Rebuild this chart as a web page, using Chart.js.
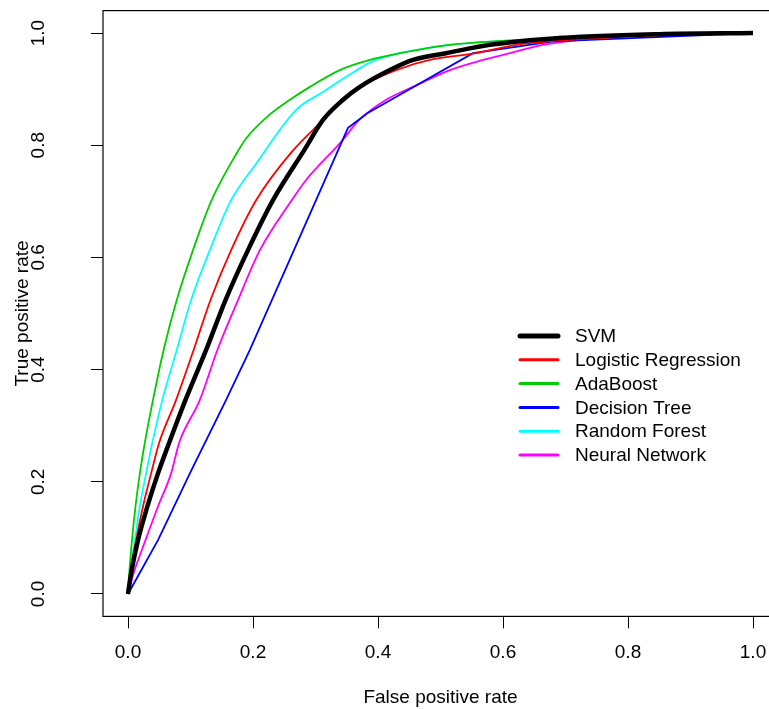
<!DOCTYPE html>
<html>
<head>
<meta charset="utf-8">
<script src="https://cdn.jsdelivr.net/npm/chart.js@4"></script>
<style>
  html, body { margin: 0; padding: 0; background: #fff; overflow: hidden; }
  #wrap { width: 769px; height: 709px; overflow: hidden; }
  #roc { display: block; }
</style>
</head>
<body>
<div id="wrap"><canvas id="roc" width="800" height="709"></canvas></div>
<script>
// ROC curves (false positive rate / true positive rate)
var seriesNames = ['SVM', 'Logistic Regression', 'AdaBoost', 'Decision Tree', 'Random Forest', 'Neural Network'];
var seriesColors = ['#000000', '#FF0000', '#00CD00', '#0000FF', '#00FFFF', '#FF00FF'];

var fprSVM = [0, 0.005, 0.016, 0.031, 0.048, 0.066, 0.092, 0.125, 0.156, 0.192, 0.232, 0.283, 0.312, 0.344, 0.371, 0.419, 0.456, 0.509, 0.579, 0.675, 0.85, 1];
var tprSVM = [0, 0.037, 0.096, 0.156, 0.215, 0.27, 0.346, 0.435, 0.524, 0.613, 0.702, 0.793, 0.845, 0.881, 0.904, 0.934, 0.952, 0.964, 0.979, 0.990, 0.998, 1];

var fprLR = [0, 0.004, 0.013, 0.024, 0.037, 0.050, 0.077, 0.105, 0.132, 0.165, 0.205, 0.262, 0.312, 0.344, 0.371, 0.429, 0.483, 0.557, 0.621, 0.77, 0.9, 1];
var tprLR = [0, 0.037, 0.096, 0.156, 0.215, 0.27, 0.346, 0.435, 0.524, 0.613, 0.702, 0.788, 0.845, 0.881, 0.904, 0.934, 0.952, 0.964, 0.979, 0.992, 0.998, 1];

var fprAda = [0, 0.002, 0.0064, 0.012, 0.019, 0.027, 0.040, 0.057, 0.078, 0.104, 0.133, 0.173, 0.189, 0.227, 0.259, 0.291, 0.339, 0.387, 0.435, 0.515, 0.675, 0.85, 1];
var tprAda = [0, 0.037, 0.096, 0.156, 0.215, 0.27, 0.346, 0.435, 0.524, 0.613, 0.700, 0.784, 0.812, 0.855, 0.881, 0.904, 0.934, 0.952, 0.964, 0.979, 0.990, 0.998, 1];

var fprTree = [0, 0.048, 0.099, 0.157, 0.195, 0.352, 0.383, 0.454, 0.552, 0.68, 1];
var tprTree = [0, 0.096, 0.215, 0.346, 0.435, 0.831, 0.857, 0.902, 0.964, 0.985, 1];

var fprRF = [0, 0.003, 0.011, 0.019, 0.029, 0.039, 0.055, 0.078, 0.101, 0.131, 0.165, 0.205, 0.269, 0.312, 0.349, 0.392, 0.435, 0.515, 0.675, 0.85, 1];
var tprRF = [0, 0.037, 0.096, 0.156, 0.215, 0.27, 0.346, 0.435, 0.524, 0.613, 0.702, 0.767, 0.863, 0.895, 0.922, 0.950, 0.964, 0.979, 0.990, 0.998, 1];

var fprNN = [0, 0.009, 0.028, 0.048, 0.069, 0.082, 0.115, 0.143, 0.176, 0.211, 0.262, 0.285, 0.341, 0.37, 0.413, 0.456, 0.515, 0.568, 0.611, 0.664, 0.78, 0.9, 1];
var tprNN = [0, 0.037, 0.096, 0.156, 0.215, 0.27, 0.346, 0.435, 0.524, 0.613, 0.702, 0.738, 0.806, 0.845, 0.881, 0.904, 0.934, 0.952, 0.964, 0.979, 0.993, 0.999, 1];

var tickValues = [0, 0.2, 0.4, 0.6, 0.8, 1.0];
var tickLabels = ['0.0', '0.2', '0.4', '0.6', '0.8', '1.0'];

var fprAll = [fprSVM, fprLR, fprAda, fprTree, fprRF, fprNN];
var tprAll = [tprSVM, tprLR, tprAda, tprTree, tprRF, tprNN];

var FONT = '"Liberation Sans", Arial, Helvetica, sans-serif';

function toPoints(xs, ys) {
    return xs.map(function (x, i) { return { x: x, y: ys[i] }; });
}

var datasets = seriesNames.map(function (name, i) {
    return {
        label: name,
        data: toPoints(fprAll[i], tprAll[i]),
        borderColor: seriesColors[i],
        backgroundColor: seriesColors[i],
        borderWidth: i === 0 ? 4.5 : 1.8,
        pointRadius: 0,
        // the tree curve is piecewise straight, the others are smooth
        cubicInterpolationMode: name === 'Decision Tree' ? 'default' : 'monotone',
        tension: 0,
        showLine: true,
        fill: false
    };
});

// box around plot, rotated y labels and the legend (R style)
var rStyle = {
    id: 'rStyle',
    afterDraw: function (chart) {
        var c = chart.ctx, a = chart.chartArea;
        c.save();
        c.strokeStyle = '#000';
        c.lineWidth = 1.2;
        c.strokeRect(a.left, a.top, a.right - a.left, a.bottom - a.top);

        // y tick labels, vertical
        var ys = chart.scales.y;
        c.fillStyle = '#000';
        c.font = '19px ' + FONT;
        c.textAlign = 'center';
        c.textBaseline = 'alphabetic';
        tickValues.forEach(function (v, i) {
            c.save();
            c.translate(44, ys.getPixelForValue(v));
            c.rotate(-Math.PI / 2);
            c.fillText(tickLabels[i], 0, 0);
            c.restore();
        });

        // legend
        var lx = 520, ly = 336, step = 23.8;
        c.textAlign = 'left';
        c.textBaseline = 'middle';
        chart.data.datasets.forEach(function (ds, i) {
            var y = ly + i * step;
            c.beginPath();
            c.lineCap = 'round';
            c.strokeStyle = ds.borderColor;
            c.lineWidth = i === 0 ? 5 : 3;
            c.moveTo(lx, y);
            c.lineTo(lx + 38, y);
            c.stroke();
            c.fillStyle = '#000';
            c.fillText(ds.label, 575, y + 1);
        });
        c.restore();
    }
};

var ctx = document.getElementById('roc').getContext('2d');
var rocChart = new Chart(ctx, {
    type: 'scatter',
    data: { datasets: datasets },
    options: {
        responsive: false,
        animation: false,
        devicePixelRatio: 1,
        layout: { padding: { top: 10.6, right: 22, left: 0, bottom: 0 } },
        plugins: {
            legend: { display: false },
            tooltip: { enabled: false }
        },
        scales: {
            x: {
                type: 'linear',
                min: -0.04,
                max: 1.04,
                afterBuildTicks: function (s) { s.ticks = tickValues.map(function (v) { return { value: v }; }); },
                afterFit: function (s) { s.height = 92.6; },
                grid: { display: true, drawOnChartArea: false, tickLength: 12, color: '#000', lineWidth: 1 },
                border: { display: false },
                ticks: {
                    padding: 13,
                    color: '#000',
                    font: { family: FONT, size: 19 },
                    maxRotation: 0,
                    callback: function (v) { return v.toFixed(1); }
                },
                title: {
                    display: true,
                    text: 'False positive rate',
                    color: '#000',
                    font: { family: FONT, size: 19 },
                    padding: { top: 0, bottom: 0 }
                }
            },
            y: {
                type: 'linear',
                min: -0.04,
                max: 1.04,
                afterBuildTicks: function (s) { s.ticks = tickValues.map(function (v) { return { value: v }; }); },
                afterFit: function (s) { s.width = 103; s.paddingTop = 0; s.paddingBottom = 0; },
                grid: { display: true, drawOnChartArea: false, tickLength: 12, color: '#000', lineWidth: 1 },
                border: { display: false },
                ticks: { display: false },
                title: {
                    display: true,
                    text: 'True positive rate',
                    color: '#000',
                    font: { family: FONT, size: 19 },
                    padding: { top: 11.5, bottom: 0 }
                }
            }
        }
    },
    plugins: [rStyle]
});
</script>
</body>
</html>
